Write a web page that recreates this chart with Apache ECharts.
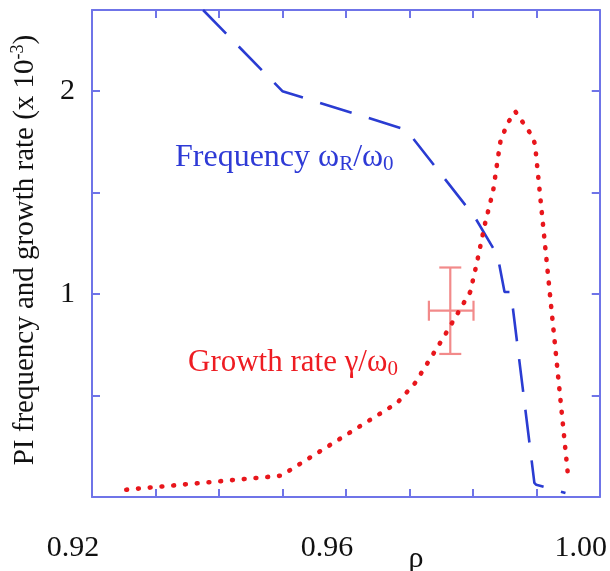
<!DOCTYPE html>
<html><head><meta charset="utf-8">
<script src="https://cdn.jsdelivr.net/npm/echarts@6/dist/echarts.min.js"></script>
<style>html,body{margin:0;padding:0;background:#fff}#c{width:610px;height:571px}</style>
</head><body><div id="c"></div>
<script>
// Frequency omega_R/omega_0 (x 10^-3) vs rho
const freqRho = [0.9375, 0.9500, 0.9695, 0.9803, 0.9839, 0.9850, 0.9860, 0.9897, 0.9900, 0.9946];
const freqVal = [2.40, 2.00, 1.81, 1.38, 1.19, 1.01, 1.01, 0.07, 0.06, 0.02];
// Growth rate gamma/omega_0 (x 10^-3) vs rho
const growthRho = [0.9254, 0.9498, 0.9681, 0.9709, 0.9754, 0.9796, 0.9806, 0.9819, 0.9832, 0.9840, 0.9844, 0.9856, 0.9867, 0.9894, 0.9898, 0.9950];
const growthVal = [0.036, 0.105, 0.464, 0.562, 0.787, 1.011, 1.148, 1.344, 1.508, 1.680, 1.762, 1.848, 1.900, 1.777, 1.738, 0.105];
// Measured point with error bars
const errRho = [0.97645], errVal = [0.918];
const errRhoLo = [0.97308], errRhoHi = [0.98011];
const errValLo = [0.705], errValHi = [1.131];
// Tick labels
const xTickLabels = ['0.92', '0.96', '1.00'];
const yTickLabels = ['1', '2'];

const axisColor = '#6f74e8';
const serif = '"Liberation Serif", "DejaVu Serif", serif';
const chart = echarts.init(document.getElementById('c'));

const baseX = {
  type: 'value', min: 0.92, max: 1.00, interval: 0.01, gridIndex: 0,
  axisLine: {show: true, onZero: false, lineStyle: {color: axisColor, width: 2}},
  axisTick: {show: true, inside: true, length: 8, lineStyle: {color: axisColor, width: 2}},
  splitLine: {show: false}
};
const baseY = {
  type: 'value', min: 0, max: 2.4, interval: 0.5, gridIndex: 0,
  axisLine: {show: true, onZero: false, lineStyle: {color: axisColor, width: 2}},
  axisTick: {show: true, inside: true, length: 8, lineStyle: {color: axisColor, width: 2}},
  splitLine: {show: false}
};

chart.setOption({
  animation: false,
  grid: {left: 92, right: 6, top: 10, bottom: 74},
  xAxis: [
    Object.assign({}, baseX, {position: 'bottom',
      axisLabel: {show: true, margin: 36, fontFamily: serif, fontSize: 30, color: '#111',
        padding: [0, 38, 0, 0],
        formatter: v => { const s = (+v).toFixed(2); return xTickLabels.includes(s) ? s : ''; }}}),
    Object.assign({}, baseX, {position: 'top', axisLabel: {show: false}})
  ],
  yAxis: [
    Object.assign({}, baseY, {position: 'left',
      axisLabel: {show: true, margin: 17, fontFamily: serif, fontSize: 30, color: '#111',
        formatter: v => { const s = String(+(+v).toFixed(2)); return yTickLabels.includes(s) ? s : ''; }}}),
    Object.assign({}, baseY, {position: 'right', axisLabel: {show: false}})
  ],
  series: [
    {
      type: 'line', xAxisIndex: 0, yAxisIndex: 0, symbol: 'none', clip: true, z: 3,
      data: freqRho.map((r, i) => [r, freqVal[i]]),
      lineStyle: {color: '#2a3cd2', width: 2.6, type: [33, 18]}
    },
    {
      type: 'line', xAxisIndex: 0, yAxisIndex: 0, symbol: 'none', clip: true, z: 4,
      data: growthRho.map((r, i) => [r, growthVal[i]]),
      lineStyle: {color: '#e8161c', width: 4.6, type: [0.8, 11], cap: 'round'}
    },
    {
      type: 'custom', xAxisIndex: 0, yAxisIndex: 0, z: 2,
      data: errRho.map((r, i) => [r, errVal[i], errValLo[i], errValHi[i], errRhoLo[i], errRhoHi[i]]),
      encode: {x: 0, y: 1},
      renderItem: (params, api) => {
        const x = api.value(0), y = api.value(1);
        const lo = api.coord([x, api.value(2)]);
        const hi = api.coord([x, api.value(3)]);
        const le = api.coord([api.value(4), y]);
        const ri = api.coord([api.value(5), y]);
        const st = {stroke: '#f28a8a', lineWidth: 2.2};
        const ln = (x1, y1, x2, y2) => ({type: 'line', shape: {x1, y1, x2, y2}, style: st});
        return {type: 'group', children: [
          ln(lo[0], lo[1], hi[0], hi[1]),
          ln(hi[0] - 11, hi[1], hi[0] + 11, hi[1]),
          ln(lo[0] - 11, lo[1], lo[0] + 11, lo[1]),
          ln(le[0], le[1], ri[0], ri[1]),
          ln(le[0], le[1] - 10, le[0], le[1] + 10),
          ln(ri[0], ri[1] - 10, ri[0], ri[1] + 10)
        ]};
      }
    }
  ],
  graphic: [
    {
      type: 'text', x: 175, y: 158, z: 10,
      style: {
        text: '{m|Frequency ω}{s|R}{m|/ω}{s|0}', fill: '#2e3ad6', align: 'left', verticalAlign: 'middle',
        rich: {
          m: {fontFamily: serif, fontSize: 32, lineHeight: 34, fill: '#2e3ad6'},
          s: {fontFamily: serif, fontSize: 21, lineHeight: 14, verticalAlign: 'bottom', fill: '#2e3ad6'}
        }
      }
    },
    {
      type: 'text', x: 188, y: 363, z: 10,
      style: {
        text: '{m|Growth rate γ/ω}{s|0}', fill: '#ee1c22', align: 'left', verticalAlign: 'middle',
        rich: {
          m: {fontFamily: serif, fontSize: 31, lineHeight: 34, fill: '#ee1c22'},
          s: {fontFamily: serif, fontSize: 21, lineHeight: 14, verticalAlign: 'bottom', fill: '#ee1c22'}
        }
      }
    },
    {
      type: 'text', x: 416, y: 559, z: 10,
      style: {text: 'ρ', font: '30px ' + serif, fill: '#111', align: 'center', verticalAlign: 'middle'}
    },
    {
      type: 'text', x: 25, y: 250, rotation: Math.PI / 2, z: 10,
      style: {
        text: '{m|PI frequency and growth rate (x 10}{p|-3}{m|)}', align: 'center', verticalAlign: 'middle',
        rich: {
          m: {fontFamily: serif, fontSize: 29, lineHeight: 32, fill: '#111'},
          p: {fontFamily: serif, fontSize: 18, lineHeight: 14, verticalAlign: 'top', fill: '#111'}
        }
      }
    }
  ]
});
</script>
</body></html>
